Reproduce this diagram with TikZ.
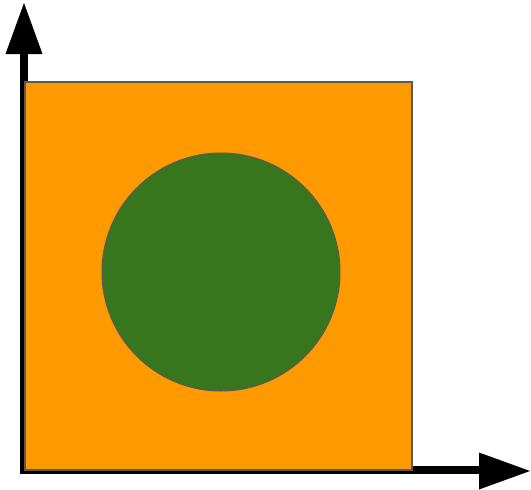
\documentclass[tikz,border=0pt]{standalone}
\usetikzlibrary{calc}
\definecolor{sqorange}{HTML}{FF9900}
\definecolor{circgreen}{HTML}{38761D}
\definecolor{edgegray}{HTML}{595959}
\tikzset{
  axisline/.style={line width=8pt, black},
  axishead/.style={fill=black, draw=none},
  shapeedge/.style={draw=edgegray, line width=1.5pt}
}
\begin{document}
\begin{tikzpicture}[x=1pt,y=-1pt]
\useasboundingbox (0,0) rectangle (531,490);
\coordinate (origin) at (24,470);
\coordinate (ytip) at (24,54);
\coordinate (xtip) at (479,470);
\draw[axisline] (24,474) -- (ytip);
\draw[axisline] (20,470) -- (xtip);
\filldraw[shapeedge, fill=sqorange] (25,82) rectangle (412,470);
\filldraw[shapeedge, fill=circgreen, line width=1pt] (221,272) circle (119);
\fill[axishead] (24,3) -- (42.5,54) -- (5.5,54) -- cycle;
\fill[axishead] (530,471) -- (479,452.5) -- (479,489.5) -- cycle;
\end{tikzpicture}
\end{document}
